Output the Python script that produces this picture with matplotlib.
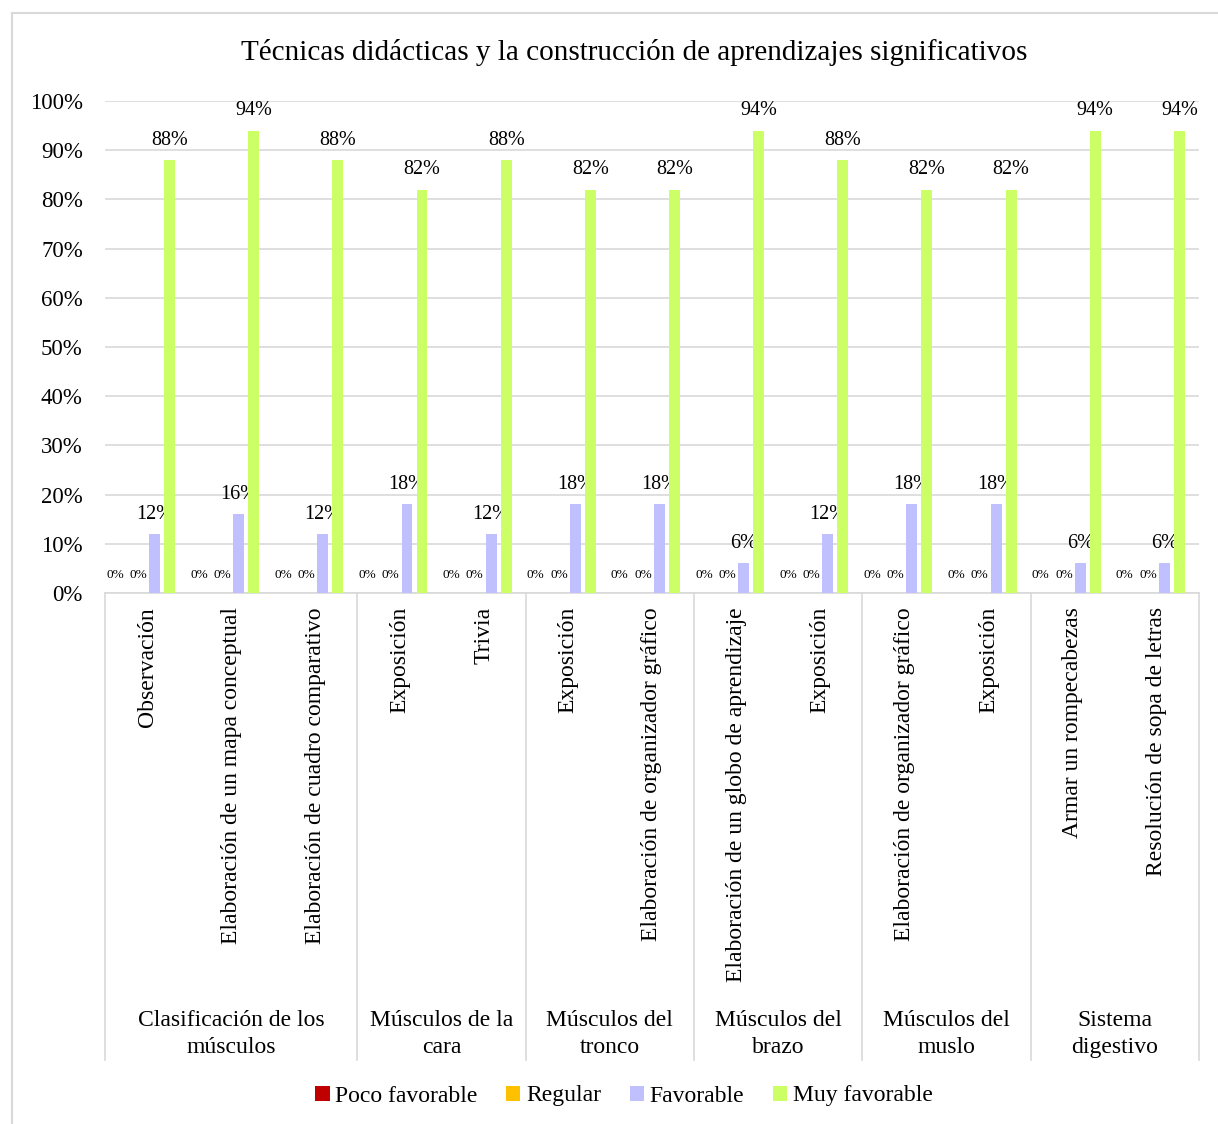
import matplotlib.pyplot as plt
import numpy as np
from matplotlib.lines import Line2D
from matplotlib.transforms import blended_transform_factory

plt.rcParams["font.family"] = ["Liberation Serif", "DejaVu Serif"]

title = "Técnicas didácticas y la construcción de aprendizajes significativos"
techniques = [
    "Observación",
    "Elaboración de un mapa conceptual",
    "Elaboración de cuadro comparativo",
    "Exposición",
    "Trivia",
    "Exposición",
    "Elaboración de organizador gráfico",
    "Elaboración de un globo de aprendizaje",
    "Exposición",
    "Elaboración de organizador gráfico",
    "Exposición",
    "Armar un rompecabezas",
    "Resolución de sopa de letras",
]
groups = [
    "Clasificación de los\nmúsculos",
    "Músculos de la\ncara",
    "Músculos del\ntronco",
    "Músculos del\nbrazo",
    "Músculos del\nmuslo",
    "Sistema\ndigestivo",
]
group_sizes = [3, 2, 2, 2, 2, 2]
series_names = ["Poco favorable", "Regular", "Favorable", "Muy favorable"]
poco = [0, 0, 0, 0, 0, 0, 0, 0, 0, 0, 0, 0, 0]
regular = [0, 0, 0, 0, 0, 0, 0, 0, 0, 0, 0, 0, 0]
favorable = [12, 16, 12, 18, 12, 18, 18, 6, 12, 18, 18, 6, 6]
muy_favorable = [88, 94, 88, 82, 88, 82, 82, 94, 88, 82, 82, 94, 94]
colors = ["#C00000", "#FFC000", "#C0C0FF", "#CCFF66"]

W, H = 1218, 1124
fig = plt.figure(figsize=(W / 100, H / 100), dpi=100)
ax = fig.add_axes([105 / W, 1 - 593 / H, (1199 - 105) / W, (593 - 101) / H])

n = len(techniques)
x = np.arange(n)
spacing = 0.178
width = 0.13
all_series = [poco, regular, favorable, muy_favorable]
# zero-value labels sit a bit further apart than the (invisible) bars, like Excel does
zero_shift = [-7, -1, 0, 0]
for i, (vals, name, col) in enumerate(zip(all_series, series_names, colors)):
    pos = x + (i - 1.5) * spacing
    vals = np.array(vals) / 100
    ax.bar(pos, vals, width=width, color=col, label=name, zorder=3)
    for px, v in zip(pos, vals):
        if v == 0:
            ax.annotate("0%", (px, v), xytext=(zero_shift[i], 11), textcoords="offset points",
                        ha="center", va="baseline", fontsize=9.5)
        else:
            ax.annotate(f"{v * 100:.0f}%", (px, v), xytext=(0, 11), textcoords="offset points",
                        ha="center", va="baseline", fontsize=14.5)

ax.set_xlim(-0.5, n - 0.5)
ax.set_ylim(0, 1)
ax.set_yticks(np.arange(0, 1.01, 0.1))
ax.set_yticklabels([f"{t}%" for t in range(0, 101, 10)], fontsize=16.5)
ax.tick_params(axis="y", length=0, pad=16)
ax.set_xticks([])
ax.grid(axis="y", color="#d9d9d9", linewidth=1.2, zorder=0)
for s in ["top", "right", "left"]:
    ax.spines[s].set_visible(False)
ax.spines["bottom"].set_color("#d9d9d9")
ax.spines["bottom"].set_linewidth(1.2)

trans = blended_transform_factory(ax.transData, ax.transAxes)
ax_h = 593 - 101
for xi, lab in zip(x, techniques):
    ax.text(xi, -14 / ax_h, lab, transform=trans, rotation=90, ha="center", va="top", fontsize=17)

bottom = -(1060 - 593) / ax_h
edges = np.concatenate([[0], np.cumsum(group_sizes)]) - 0.5
for e in edges:
    ax.add_line(Line2D([e, e], [0, bottom], transform=trans, color="#d9d9d9", linewidth=1.2, clip_on=False))
for g, a, b in zip(groups, edges[:-1], edges[1:]):
    ax.text((a + b) / 2, -(1034 - 593) / ax_h, g, transform=trans, ha="center", va="center",
            fontsize=17, linespacing=1.4)

fig.text(634 / W, 1 - 53 / H, title, ha="center", va="center", fontsize=21)

fig.legend(loc="center", bbox_to_anchor=(624 / W, 1 - 1096 / H), ncol=4, frameon=False, fontsize=17,
           handlelength=0.6, handleheight=0.6, handletextpad=0.25, columnspacing=1.2)

fig.add_artist(Line2D([12 / W, 12 / W], [0, 1 - 13 / H], color="#d9d9d9", linewidth=1.5))
fig.add_artist(Line2D([12 / W, 1], [1 - 13 / H, 1 - 13 / H], color="#d9d9d9", linewidth=1.5))

fig.savefig("out.png", dpi=100)
